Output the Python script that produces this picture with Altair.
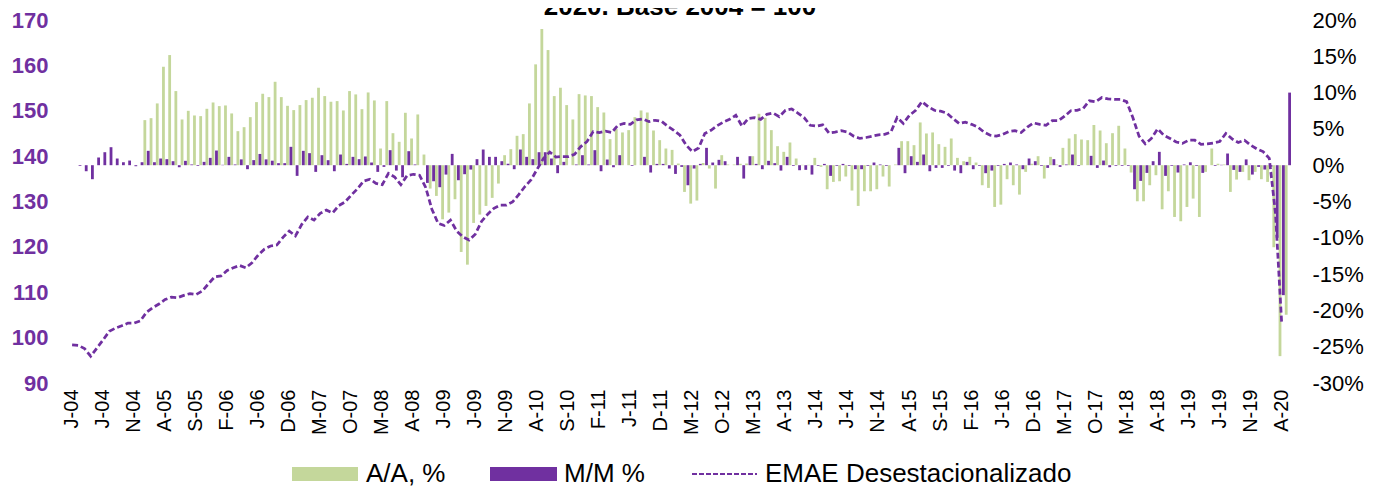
import altair as alt
import pandas as pd

# x-axis tick labels (every 5th month, starting Jan-2004)
tick_labels = ["J-04", "J-04", "N-04", "A-05", "S-05", "F-06", "J-06", "D-06", "M-07", "O-07",
               "M-08", "A-08", "J-09", "J-09", "N-09", "A-10", "S-10", "F-11", "J-11", "D-11",
               "M-12", "O-12", "M-13", "A-13", "J-14", "J-14", "N-14", "A-15", "S-15", "F-16",
               "J-16", "D-16", "M-17", "O-17", "M-18", "A-18", "J-19", "J-19", "N-19", "A-20"]

# EMAE desestacionalizado (left axis), Jan-04 .. Apr-20
emae = [98.4, 98.3, 97.6, 95.9, 97.7, 99.5, 101.4, 102.1, 102.6, 103.2,
        103.2, 103.7, 105.6, 106.6, 107.4, 108.4, 108.9, 108.8, 109.3, 109.7,
        109.5, 110.3, 111.9, 113.4, 113.6, 114.8, 115.4, 115.9, 115.4, 116.5,
        118.2, 119.5, 120.2, 120.4, 122.1, 123.5, 122.4, 124.9, 126.6, 125.9,
        127.4, 128.1, 127.5, 129.1, 129.9, 131.4, 132.8, 134.5, 134.9, 134.0,
        133.7, 136.2, 135.4, 133.7, 135.7, 136.0, 135.8, 133.1, 128.3, 125.2,
        124.7, 125.9, 123.5, 122.2, 121.5, 122.8, 125.6, 127.2, 128.5, 129.2,
        129.2, 129.9, 131.5, 133.3, 134.8, 137.2, 139.5, 140.9, 139.8, 139.9,
        139.9, 140.4, 142.1, 143.2, 145.4, 145.2, 145.5, 145.2, 146.8, 147.2,
        147.0, 148.0, 148.2, 147.6, 147.9, 147.7, 146.6, 145.7, 144.6, 142.4,
        141.0, 141.8, 145.0, 145.7, 146.7, 147.5, 148.1, 149.0, 146.6, 148.3,
        148.5, 148.1, 149.2, 149.5, 148.7, 150.1, 150.4, 149.5, 148.5, 146.8,
        146.6, 146.9, 145.1, 145.3, 145.6, 145.3, 144.4, 143.9, 144.1, 144.4,
        144.7, 144.8, 145.3, 148.5, 147.2, 149.0, 150.1, 152.0, 150.9, 150.1,
        149.9, 149.5, 148.3, 147.2, 147.5, 147.0, 146.4, 145.3, 144.6, 144.4,
        144.8, 145.4, 145.6, 145.2, 146.4, 147.3, 147.0, 146.8, 147.8, 147.8,
        148.8, 150.0, 150.1, 150.5, 152.2, 152.0, 152.9, 152.6, 152.5, 152.5,
        152.0, 148.5, 144.4, 142.7, 143.9, 146.0, 144.6, 143.9, 143.1, 142.8,
        143.5, 143.5, 142.6, 142.7, 142.9, 143.2, 145.0, 143.8, 143.0, 143.5,
        142.4, 141.6, 141.0, 139.5, 127.4, 103.2]

# A/A % (right axis), Jan-04 .. May-20
aa = [None] * 12 + [
    6.21, 6.48, 8.51, 13.56, 15.17, 10.21, 6.3, 7.49,
    6.85, 6.76, 7.77, 8.64, 8.14, 8.23, 7.13, 4.69, 5.24, 6.62,
    8.69, 9.84, 9.38, 11.49, 9.38, 8.18, 7.59, 8.28, 8.97, 9.29,
    10.67, 9.52, 8.74, 8.83, 7.54, 10.21, 9.75, 7.72, 10.02, 8.92,
    2.3, 8.83, 4.41, 3.22, 7.22, 3.68, 6.99, 1.47, -3.22, -4.23,
    -7.45, -6.53, -4.69, -11.95, -13.7, -7.95, -6.8, -5.61, -4.5, -2.53,
    1.38, 2.21, 4.05, 4.28, 8.51, 13.89, 18.76, 15.86, 9.52, 10.67,
    8.28, 6.3, 9.79, 9.61, 9.52, 8.0, 7.26, 3.59, 4.97, 4.51,
    4.83, 6.62, 7.54, 7.26, 4.78, 3.45, 2.3, 2.11, 0.23, -3.68,
    -5.29, -4.87, 0.3, -0.46, -3.22, 1.38, 0.1, 0.1, 0.2, 0.23,
    1.24, 7.08, 6.53, 4.83, 2.62, 1.84, 3.13, 0.92, 0.05, 0.05,
    1.01, -0.23, -3.31, -2.3, -2.21, -1.56, -3.49, -5.61, -3.59, -3.59,
    -3.31, -1.56, -2.94, 0.1, 3.31, 3.31, 2.76, 5.89, 4.37, 4.51,
    2.9, 2.53, 3.68, 1.01, 0.55, 1.15, 0.37, -2.76, -3.13, -5.75,
    -5.43, -1.93, -2.76, -4.05, -0.92, 0.2, 1.24, -1.84, 1.15, 0.1,
    2.39, 3.68, 4.28, 3.54, 3.45, 5.52, 4.78, 3.03, 4.41, 5.43,
    2.3, -1.01, -4.97, -4.97, -2.76, -1.38, -6.07, -3.59, -7.13, -7.72,
    -5.75, -4.6, -7.13, -0.92, 2.3, 0.2, 0.1, -3.68, -1.98, -0.92,
    -2.07, -0.92, -1.93, -2.3, -11.3, -26.3, -20.6]

# M/M % (right axis), Jan-04 .. May-20
mm = [None,
      -0.1, -0.83, -1.93, 1.06, 1.79, 2.48, 0.92, 0.41, 0.64,
      -0.14, 0.41, 1.98, 0.41, 0.92, 0.83, 0.55, -0.28, 0.6, 0.1,
      -0.1, 0.46, 1.01, 2.02, 0.05, 1.15, 0.1, 0.8, -0.55, 0.7,
      1.55, 0.8, 0.62, 0.28, 0.28, 2.53, -1.47, 1.98, 1.66, -0.92,
      1.38, 0.69, -0.83, 1.47, 0.18, 1.15, 0.83, 1.2, 0.37, -0.92,
      -0.23, 2.07, -0.74, -1.66, 1.93, 0.1, 0.0, -2.44, -2.21, -3.03,
      -1.29, 1.56, -2.07, -1.24, -0.6, 0.83, 2.16, 1.15, 1.15, 0.55,
      0.2, -0.55, 2.16, 1.15, 0.83, 1.79, 1.79, 0.92, -1.1, 0.46,
      0.0, 0.1, 1.38, 0.1, 2.07, -0.83, 0.78, -0.28, 1.38, 0.0,
      -0.1, 0.0, 1.15, -1.01, 0.18, 0.18, -0.46, -1.2, -0.23, -2.76,
      -0.46, 0.18, 2.39, 0.37, 0.74, 0.55, 0.0, 1.15, -1.84, 1.24,
      0.18, -0.55, 0.6, 0.28, -0.74, 1.15, -0.1, -0.69, -0.64, -1.29,
      -0.1, 0.18, -1.47, -0.1, 0.18, -0.1, -0.55, -0.55, -0.1, 0.37,
      0.1, -0.1, 0.0, 2.39, -1.1, 1.24, 0.46, 1.47, -0.83, -0.37,
      -0.37, -0.1, -0.74, -1.1, 0.46, -0.55, -0.1, -1.1, -0.74, -0.1,
      0.18, 0.37, 0.1, -0.55, 0.92, 0.55, -0.1, -0.37, 0.83, -0.23,
      0.1, 1.47, -0.1, 0.0, 1.29, -0.37, 0.64, -0.28, -0.1, -0.1,
      -0.1, -3.31, -2.16, -1.06, 0.55, 1.84, -1.47, -0.1, -1.01, 0.1,
      0.4, -0.1, -1.06, 0.0, -0.1, 0.05, 1.61, -0.65, -0.92, 0.8,
      -1.29, -0.23, -0.6, -0.2, -10.0, -17.9, 10.0]

series = ["A/A", "M/M"]
GREEN = "#C4D79B"
PURPLE = "#7030A0"
FONT = "Liberation Sans"

n = len(aa)
idx = list(range(n))

bars = pd.DataFrame({"i": idx * 2, "serie": ["A/A"] * n + ["M/M"] * n,
                     "valor": aa + mm}).dropna()
line = pd.DataFrame({"i": list(range(len(emae))), "emae": emae})
one = pd.DataFrame({"k": [0]})

label_js = "[" + ",".join("'%s'" % t for t in tick_labels) + "]"

x_scale = alt.Scale(domain=idx, paddingInner=0, paddingOuter=0)
x_axis = alt.Axis(values=list(range(0, n, 5)), labelExpr=label_js + "[datum.value / 5]",
                  labelAngle=270, labelAlign="right", labelBaseline="middle",
                  labelFontSize=20, labelColor="#000000", labelPadding=6,
                  domain=False, ticks=False, grid=False, title=None, labelOverlap=False)

bar = alt.Chart(bars).mark_bar().encode(
    x=alt.X("i:O", scale=x_scale, axis=x_axis),
    xOffset=alt.XOffset("serie:N", scale=alt.Scale(domain=series, paddingInner=0.175, paddingOuter=0)),
    y=alt.Y("valor:Q", scale=alt.Scale(domain=[-30, 20], nice=False, zero=True),
            axis=alt.Axis(orient="right", values=list(range(-30, 25, 5)),
                          labelExpr="datum.value + '%'", labelFontSize=22, labelColor="#000000",
                          labelAlign="left", labelPadding=21, labelFlush=False, labelOverlap=False,
                          domain=False, ticks=False, grid=False, title=None)),
    color=alt.Color("serie:N", scale=alt.Scale(domain=series, range=[GREEN, PURPLE]), legend=None),
)

ln = alt.Chart(line).mark_line(color=PURPLE, strokeWidth=2.75, strokeDash=[6, 3]).encode(
    x=alt.X("i:O", scale=x_scale, axis=x_axis),
    y=alt.Y("emae:Q", scale=alt.Scale(domain=[90, 170], nice=False, zero=False),
            axis=alt.Axis(orient="left", values=list(range(90, 180, 10)), labelFontSize=22,
                          labelFontWeight="bold", labelColor=PURPLE, labelPadding=21,
                          labelFlush=False, labelOverlap=False,
                          domain=False, ticks=False, grid=False, title=None)),
)

# title (cut at the top edge, as in the reference)
title = alt.Chart(one).mark_text(text="2020. Base 2004 = 100", fontSize=26, fontWeight="bold",
                                 align="center", baseline="alphabetic", color="#000000").encode(
    x=alt.value(611), y=alt.value(-5))

# legend
leg_aa_box = alt.Chart(one).mark_rect(color=GREEN).encode(
    x=alt.value(223), x2=alt.value(289), y=alt.value(447), y2=alt.value(461))
leg_aa_txt = alt.Chart(one).mark_text(text="A/A, %", fontSize=26, align="left",
                                      baseline="middle", color="#000000").encode(
    x=alt.value(297), y=alt.value(454))
leg_mm_box = alt.Chart(one).mark_rect(color=PURPLE).encode(
    x=alt.value(421), x2=alt.value(488), y=alt.value(447), y2=alt.value(461))
leg_mm_txt = alt.Chart(one).mark_text(text="M/M %", fontSize=26, align="left",
                                      baseline="middle", color="#000000").encode(
    x=alt.value(495), y=alt.value(454))
leg_ln = alt.Chart(one).mark_rule(color=PURPLE, strokeWidth=2.2, strokeDash=[5, 2]).encode(
    x=alt.value(623), x2=alt.value(688), y=alt.value(454))
leg_ln_txt = alt.Chart(one).mark_text(text="EMAE Desestacionalizado", fontSize=26, align="left",
                                      baseline="middle", color="#000000").encode(
    x=alt.value(696), y=alt.value(454))

chart = alt.layer(bar, ln, title, leg_aa_box, leg_aa_txt, leg_mm_box, leg_mm_txt,
                  leg_ln, leg_ln_txt).resolve_scale(y="independent").properties(
    width=1222, height=363,
    autosize=alt.AutoSizeParams(type="none"),
    padding={"left": 61, "top": 12, "right": 82, "bottom": 103},
).configure(font=FONT).configure_view(stroke=None)

chart.save("out.html", embed_options={"renderer": "svg", "actions": False})
